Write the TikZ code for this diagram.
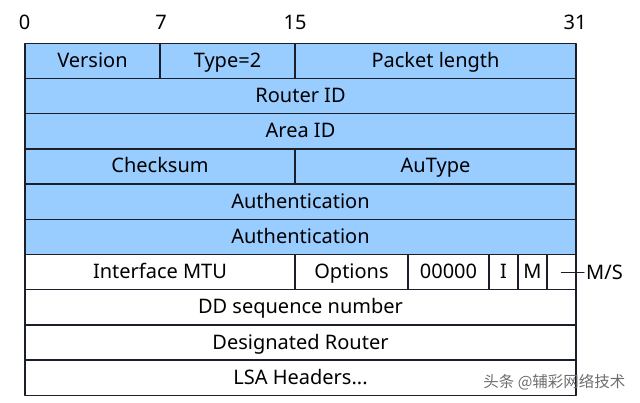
\documentclass[tikz,border=0pt]{standalone}
\usepackage{fontspec}
\setmainfont{Noto Sans}
\newfontfamily\cjkfont{Noto Sans CJK SC}
\usepackage{xcolor}
\usepackage{tikz}
\usetikzlibrary{positioning}
\definecolor{fieldblue}{HTML}{99CCFF}
\definecolor{fieldline}{HTML}{1B1F2A}
\definecolor{marktext}{HTML}{6E6E6E}
\tikzset{
every picture/.style={line cap=round,line join=round},
plain field/.style={
  draw=fieldline,
  line width=1.3pt,
  minimum height=35.2pt,
  inner sep=0pt,
  outer sep=0pt,
  text height=15.5pt,
  text depth=2.5pt,
  font=\fontsize{20}{22}\selectfont
},
blue field/.style={plain field, fill=fieldblue},
bit label/.style={font=\fontsize{20}{22}\selectfont, inner sep=0pt},
side label/.style={font=\fontsize{20}{22}\selectfont, inner sep=2pt}
}
\begin{document}
\begin{tikzpicture}[x=1pt,y=-1pt]
\useasboundingbox (0,0) rectangle (640,403);
% bit numbers
\foreach \x/\b in {24.5/0,161/7,295/15,575/31} {
\node[bit label] (bit\b) at (\x,22) {\b};
}
% first row
\node[blue field, minimum width=135pt] (version) at (92.5,60.9) {Version};
\node[blue field, minimum width=135pt] (type) at (227.5,60.9) {Type=2};
\node[blue field, minimum width=281pt] (pktlen) at (435.5,60.9) {Packet length};
% full width rows
\node[blue field, minimum width=551pt] (routerid) at (300.5,96.1) {Router ID};
\node[blue field, minimum width=551pt] (areaid) at (300.5,131.3) {Area ID};
\node[blue field, minimum width=270pt] (checksum) at (160,166.5) {Checksum};
\node[blue field, minimum width=281pt] (autype) at (435.5,166.5) {AuType};
\node[blue field, minimum width=551pt] (auth1) at (300.5,201.7) {Authentication};
\node[blue field, minimum width=551pt] (auth2) at (300.5,236.9) {Authentication};
% DD fields
\node[plain field, minimum width=270pt] (mtu) at (160,272.1) {Interface MTU};
\node[plain field, minimum width=113pt] (options) at (351.5,272.1) {Options};
\node[plain field, minimum width=81pt] (zeros) at (448.5,272.1) {00000};
\node[plain field, minimum width=29pt] (ibit) at (503.5,272.1) {I};
\node[plain field, minimum width=29pt] (mbit) at (532.5,272.1) {M};
\node[plain field, minimum width=29pt] (msbit) at (561.5,272.1) {};
\node[side label, anchor=west] (mslabel) at (584,272.1) {M/S};
\draw[fieldline, line width=1.1pt] (msbit.center) -- (mslabel.west);
\node[plain field, minimum width=551pt] (ddseq) at (300.5,307.3) {DD sequence number};
\node[plain field, minimum width=551pt] (dr) at (300.5,342.5) {Designated Router};
\node[plain field, minimum width=551pt] (lsahdr) at (300.5,377.7) {LSA Headers...};
% watermark
\node[font=\cjkfont\fontsize{15.5}{18}\selectfont, text=marktext, anchor=east] (mark) at (629,382) {头条 @辅彩网络技术};
\end{tikzpicture}
\end{document}
